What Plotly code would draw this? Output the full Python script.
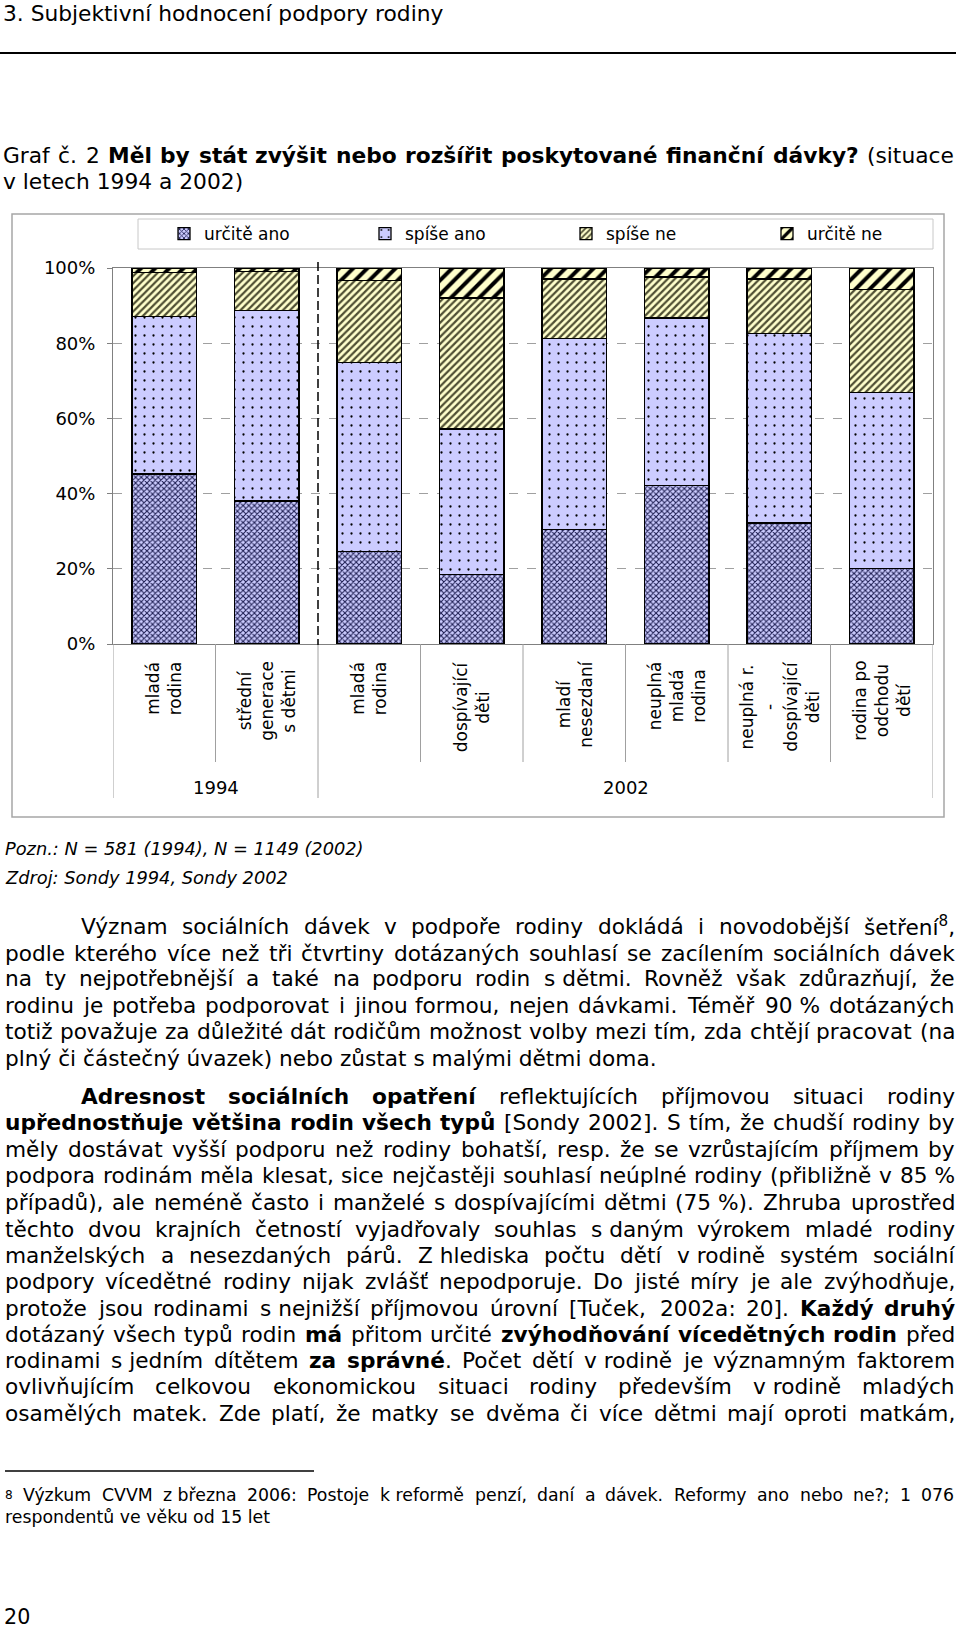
import glob
import os
import struct
import plotly.graph_objects as go

W, H = 960, 1633
FONT = "DejaVu Sans"

# ---------------- chart data ----------------
years = ["1994", "1994", "2002", "2002", "2002", "2002", "2002", "2002"]
family_types = [
    "mladá<br>rodina",
    "střední<br>generace<br>s dětmi",
    "mladá<br>rodina",
    "dospívající<br>děti",
    "mladí<br>nesezdaní",
    "neuplná<br>mladá<br>rodina",
    "neuplná r.<br>-<br>dospívající<br>děti",
    "rodina po<br>odchodu<br>dětí",
]
urcite_ano = [45.2, 38.0, 24.6, 18.5, 30.5, 42.2, 32.2, 20.0]
spise_ano = [41.9, 50.7, 50.2, 38.7, 50.7, 44.5, 50.3, 46.8]
spise_ne = [11.7, 10.4, 21.9, 34.8, 15.9, 10.9, 14.6, 27.4]
urcite_ne = [1.2, 0.9, 3.3, 8.0, 2.9, 2.4, 2.9, 5.8]
series_names = ["určitě ano", "spíše ano", "spíše ne", "určitě ne"]
y_ticks = [0, 20, 40, 60, 80, 100]
y_tick_text = ["0%", "20%", "40%", "60%", "80%", "100%"]

# ---------------- page text ----------------
heading = "3. Subjektivní hodnocení podpory rodiny"
graf_lines = [
    "Graf č. 2 <b>Měl by stát zvýšit nebo rozšířit poskytované finanční dávky?</b> (situace",
    "v letech 1994 a 2002)",
]
note_lines = ["<i>Pozn.: N = 581 (1994), N = 1149 (2002)</i>", "<i>Zdroj: Sondy 1994, Sondy 2002</i>"]
para1 = [
    "Význam sociálních dávek v podpoře rodiny dokládá i novodobější šetření<sup>8</sup>,",
    "podle kterého více než tři čtvrtiny dotázaných souhlasí se zacílením sociálních dávek",
    "na ty nejpotřebnější a také na podporu rodin s\u00a0dětmi. Rovněž však zdůrazňují, že",
    "rodinu je potřeba podporovat i jinou formou, nejen dávkami. Téměř 90\u00a0% dotázaných",
    "totiž považuje za důležité dát rodičům možnost volby mezi tím, zda chtějí pracovat (na",
    "plný či částečný úvazek) nebo zůstat s malými dětmi doma.",
]
para2 = [
    "<b>Adresnost sociálních opatření</b> reflektujících příjmovou situaci rodiny",
    "<b>upřednostňuje většina rodin všech typů</b> [Sondy 2002]. S tím, že chudší rodiny by",
    "měly dostávat vyšší podporu než rodiny bohatší, resp. že se vzrůstajícím příjmem by",
    "podpora rodinám měla klesat, sice nejčastěji souhlasí neúplné rodiny (přibližně v 85\u00a0%",
    "případů), ale neméně často i manželé s dospívajícími dětmi (75\u00a0%). Zhruba uprostřed",
    "těchto dvou krajních četností vyjadřovaly souhlas s\u00a0daným výrokem mladé rodiny",
    "manželských a nesezdaných párů. Z\u00a0hlediska počtu dětí v\u00a0rodině systém sociální",
    "podpory vícedětné rodiny nijak zvlášť nepodporuje. Do jisté míry je ale zvýhodňuje,",
    "protože jsou rodinami s\u00a0nejnižší příjmovou úrovní [Tuček, 2002a: 20]. <b>Každý druhý</b>",
    "dotázaný všech typů rodin <b>má</b> přitom určité <b>zvýhodňování vícedětných rodin</b> před",
    "rodinami s\u00a0jedním dítětem <b>za správné</b>. Počet dětí v\u00a0rodině je významným faktorem",
    "ovlivňujícím celkovou ekonomickou situaci rodiny především v\u00a0rodině mladých",
    "osamělých matek. Zde platí, že matky se dvěma či více dětmi mají oproti matkám,",
]
footnote = [
    "<sup>8</sup> Výzkum CVVM z\u00a0března 2006: Postoje k\u00a0reformě penzí, daní a dávek. Reformy ano nebo ne?; 1 076",
    "respondentů ve věku od 15 let",
]
page_number = "20"


# ---------------- font metrics (for justified text) ----------------
def _find(name):
    for root in ["/usr/share/fonts", "/usr/local/share/fonts",
                 os.path.expanduser("~/.local/share/fonts"), os.path.expanduser("~/.fonts")]:
        hits = glob.glob(os.path.join(root, "**", name), recursive=True)
        if hits:
            return hits[0]
    return None


def _load(path):
    data = open(path, "rb").read()
    n = struct.unpack(">H", data[4:6])[0]
    tabs = {}
    for i in range(n):
        tag, _, off, ln = struct.unpack(">4sIII", data[12 + 16 * i:28 + 16 * i])
        tabs[tag.decode("latin1")] = off
    upem = struct.unpack(">H", data[tabs["head"] + 18:tabs["head"] + 20])[0]
    nhm = struct.unpack(">H", data[tabs["hhea"] + 34:tabs["hhea"] + 36])[0]
    hm = tabs["hmtx"]
    adv = [struct.unpack(">H", data[hm + 4 * i:hm + 4 * i + 2])[0] for i in range(nhm)]
    cm = tabs["cmap"]
    nsub = struct.unpack(">H", data[cm + 2:cm + 4])[0]
    so = None
    for i in range(nsub):
        pid, eid, off = struct.unpack(">HHI", data[cm + 4 + 8 * i:cm + 12 + 8 * i])
        fmt = struct.unpack(">H", data[cm + off:cm + off + 2])[0]
        if fmt == 4 and pid in (0, 3):
            so = cm + off
            break
    segx2 = struct.unpack(">H", data[so + 6:so + 8])[0]
    seg = segx2 // 2
    ends = struct.unpack(">%dH" % seg, data[so + 14:so + 14 + segx2])
    starts = struct.unpack(">%dH" % seg, data[so + 16 + segx2:so + 16 + 2 * segx2])
    deltas = struct.unpack(">%dh" % seg, data[so + 16 + 2 * segx2:so + 16 + 3 * segx2])
    rpos = so + 16 + 3 * segx2
    roffs = struct.unpack(">%dH" % seg, data[rpos:rpos + segx2])
    cache = {}

    def width(ch):
        if ch in cache:
            return cache[ch]
        c = ord(ch)
        g = 0
        for i in range(seg):
            if ends[i] >= c:
                if starts[i] <= c:
                    if roffs[i] == 0:
                        g = (c + deltas[i]) & 0xFFFF
                    else:
                        a = rpos + 2 * i + roffs[i] + 2 * (c - starts[i])
                        gg = struct.unpack(">H", data[a:a + 2])[0]
                        g = (gg + deltas[i]) & 0xFFFF if gg else 0
                break
        w = (adv[g] if g < nhm else adv[-1]) / upem
        cache[ch] = w
        return w
    return width


def _fallback(ch):
    return 0.32 if ch in " \u00a0" else 0.6


try:
    _reg = _load(_find("DejaVuSans.ttf"))
except Exception:
    _reg = _fallback
try:
    _bold = _load(_find("DejaVuSans-Bold.ttf"))
except Exception:
    _bold = lambda ch: _reg(ch) * 1.1


def parse(s):
    chars, bold, sup, i = [], False, False, 0
    tags = {"<b>": ("b", True), "</b>": ("b", False), "<i>": ("i", True), "</i>": ("i", False),
            "<sup>": ("s", True), "</sup>": ("s", False)}
    while i < len(s):
        hit = None
        for t, v in tags.items():
            if s.startswith(t, i):
                hit = (t, v)
                break
        if hit:
            k, val = hit[1]
            if k == "b":
                bold = val
            elif k == "s":
                sup = val
            i += len(hit[0])
            continue
        chars.append((s[i], bold, sup))
        i += 1
    words, cur = [], []
    for c in chars:
        if c[0] == " ":
            if cur:
                words.append(cur)
                cur = []
        else:
            cur.append(c)
    if cur:
        words.append(cur)
    return words


def word_html(w):
    runs = []
    for ch, b, sp in w:
        if runs and runs[-1][1] == b and runs[-1][2] == sp:
            runs[-1][0] += ch
        else:
            runs.append([ch, b, sp])
    out = ""
    for t, b, sp in runs:
        t = t.replace("&", "&amp;")
        if sp:
            t = "<sup>" + t + "</sup>"
        if b:
            t = "<b>" + t + "</b>"
        out += t
    return out


def em(s):
    tot = 0.0
    for w in parse(s):
        for ch, b, sp in w:
            tot += (_bold(ch) if b else _reg(ch)) * (0.7 if sp else 1.0)
    return tot + 0.318 * (len(parse(s)) - 1)


def word_w(w, size):
    return sum((_bold(ch) if b else _reg(ch)) * (0.7 if sp else 1.0) for ch, b, sp in w) * size


annotations = []


def ann(text, x, y, size, xanchor="left", yanchor="middle"):
    annotations.append(dict(text=text, x=x / W, y=1 - y / H, xref="paper", yref="paper",
                            xanchor=xanchor, yanchor=yanchor, showarrow=False,
                            borderpad=0, borderwidth=0,
                            font=dict(family=FONT, size=size, color="black")))


def line(s, x0, x1, y, size, justify=True):
    if not justify:
        ann(s, x0, y, size)
        return
    words = parse(s)
    ws = [word_w(w, size) for w in words]
    gap = (x1 - x0 - sum(ws)) / max(1, len(words) - 1)
    x = x0
    for i, w in enumerate(words):
        if i == len(words) - 1 and len(words) > 1:
            ann(word_html(w), x1, y, size, xanchor="right")
        else:
            ann(word_html(w), x, y, size)
        x += ws[i] + gap


head_size = round(441 / em(heading), 2)
body_size = round(652 / em(para1[-1]), 2)
foot_size = round(266 / em(footnote[-1]), 2)
note_size = round(359 / em("Pozn.: N = 581 (1994), N = 1149 (2002)"), 2)

ann(heading, 3, 14, head_size)
line(graf_lines[0], 3, 954, 155, head_size)
line(graf_lines[1], 3, 954, 181, head_size, justify=False)
ann(note_lines[0], 5, 849, note_size)
ann(note_lines[1], 5, 877, note_size)

p1_y = [926, 953, 979, 1005, 1031, 1058]
for i, (s, y) in enumerate(zip(para1, p1_y)):
    line(s, 81 if i == 0 else 5, 955, y, body_size, justify=(i < len(para1) - 1))
p2_y = [1096, 1122, 1149, 1175, 1202, 1229, 1255, 1281, 1308, 1334, 1360, 1386, 1413]
for i, (s, y) in enumerate(zip(para2, p2_y)):
    line(s, 81 if i == 0 else 5, 955, y, body_size, justify=True)
line(footnote[0], 5, 954, 1495, foot_size)
line(footnote[1], 5, 954, 1517, foot_size, justify=False)
ann(page_number, 4, 1617, round(head_size * 0.95, 2))

# ---------------- chart ----------------
xkeys = [f"{y} {c.replace('<br>', ' ')}" for y, c in zip(years, family_types)]
styles = [
    dict(bg="#ccccff", fg="#1c1c50", shape="x", size=4, solidity=0.45),
    dict(bg="#ccccff", fg="#000000", shape=".", size=9, solidity=0.05),
    dict(bg="#ffffcc", fg="#4f4f33", shape="/", size=5, solidity=0.45),
    dict(bg="#ffffcc", fg="#000000", shape="/", size=10, solidity=0.4),
]

fig = go.Figure()
for name, vals, st in zip(series_names, [urcite_ano, spise_ano, spise_ne, urcite_ne], styles):
    fig.add_trace(go.Bar(
        x=xkeys, y=vals, name=name, hoverinfo="skip",
        marker=dict(color=st["bg"], line=dict(color="black", width=1.3),
                    pattern=dict(shape=st["shape"], bgcolor=st["bg"], fgcolor=st["fg"],
                                 size=st["size"], solidity=st["solidity"], fillmode="replace")),
    ))


def py(v):
    return 1 - v / H


for i, (k, lab) in enumerate(zip(xkeys, family_types)):
    annotations.append(dict(text=lab, x=k, xref="x", y=py(660), yref="paper", yanchor="top",
                            xanchor="center", textangle=-90, align="center", showarrow=False,
                            borderpad=0, font=dict(family=FONT, size=17, color="black")))
group_names = []
for y in years:
    if y not in group_names:
        group_names.append(y)
for g in group_names:
    idx = [i for i, y in enumerate(years) if y == g]
    annotations.append(dict(text=g, x=(idx[0] + idx[-1]) / 2, xref="x", y=py(787), yref="paper",
                            xanchor="center", yanchor="middle", showarrow=False,
                            font=dict(family=FONT, size=18, color="black")))

shapes = [
    dict(type="line", xref="paper", yref="paper", x0=0, x1=956 / W, y0=py(53), y1=py(53),
         line=dict(color="black", width=2)),
    dict(type="line", xref="paper", yref="paper", x0=5 / W, x1=314 / W, y0=py(1471), y1=py(1471),
         line=dict(color="black", width=1.5)),
    dict(type="rect", xref="paper", yref="paper", x0=12 / W, x1=944 / W, y0=py(214), y1=py(817),
         line=dict(color="#a6a6a6", width=1.5), layer="below"),
    dict(type="rect", xref="paper", yref="paper", x0=138 / W, x1=933 / W, y0=py(219), y1=py(249),
         line=dict(color="#c8c8c8", width=1), layer="below"),
]
boundaries = [i + 0.5 for i in range(len(xkeys) - 1)]
group_bounds = [-0.5, len(xkeys) - 0.5] + [i + 0.5 for i in range(len(years) - 1) if years[i] != years[i + 1]]
for b in boundaries:
    if b in group_bounds:
        continue
    shapes.append(dict(type="line", xref="x", yref="paper", x0=b, x1=b, y0=py(644), y1=py(762),
                       line=dict(color="#a0a0a0", width=1)))
for b in group_bounds:
    shapes.append(dict(type="line", xref="x", yref="paper", x0=b, x1=b, y0=py(644), y1=py(798),
                       line=dict(color="#a0a0a0", width=1)))
    if -0.5 < b < len(xkeys) - 0.5:
        shapes.append(dict(type="line", xref="x", yref="paper", x0=b, x1=b, y0=py(262), y1=py(645),
                           line=dict(color="black", width=1.5, dash="9px,4px")))

fig.update_layout(
    width=W, height=H, autosize=False, margin=dict(l=0, r=0, t=0, b=0, autoexpand=False),
    paper_bgcolor="white", plot_bgcolor="white",
    barmode="stack", bargap=0.37, hovermode=False,
    font=dict(family=FONT, color="black"),
    xaxis=dict(domain=[113 / W, 933 / W], type="category", categoryorder="array",
               categoryarray=xkeys, range=[-0.5, len(xkeys) - 0.5], showticklabels=False,
               ticks="", showgrid=False, showline=True, linecolor="#808080", linewidth=1,
               mirror=True, zeroline=False, fixedrange=True, automargin=False),
    yaxis=dict(domain=[py(644), py(268)], range=[0, 100], tickmode="array", tickvals=y_ticks,
               ticktext=y_tick_text,
               ticks="outside", ticklen=5, tickcolor="#808080", showgrid=True,
               gridcolor="#a0a0a0", griddash="dash", gridwidth=1, showline=True,
               linecolor="#808080", mirror=True, zeroline=False, ticklabelstandoff=8,
               tickfont=dict(family=FONT, size=18, color="black"), fixedrange=True,
               automargin=False),
    legend=dict(orientation="h", x=164 / W, xanchor="left", y=py(234), yanchor="middle",
                font=dict(family=FONT, size=17, color="black"), bgcolor="rgba(0,0,0,0)",
                borderwidth=0, entrywidth=156, entrywidthmode="pixels", traceorder="normal",
                itemclick=False, itemdoubleclick=False),
    annotations=annotations,
    shapes=shapes,
)

fig.write_html(
    "out.html",
    config={"displayModeBar": False, "responsive": False},
    default_width="960px",
    default_height="1633px",
    post_script="document.body.style.margin='0';document.body.style.overflow='hidden';",
)
